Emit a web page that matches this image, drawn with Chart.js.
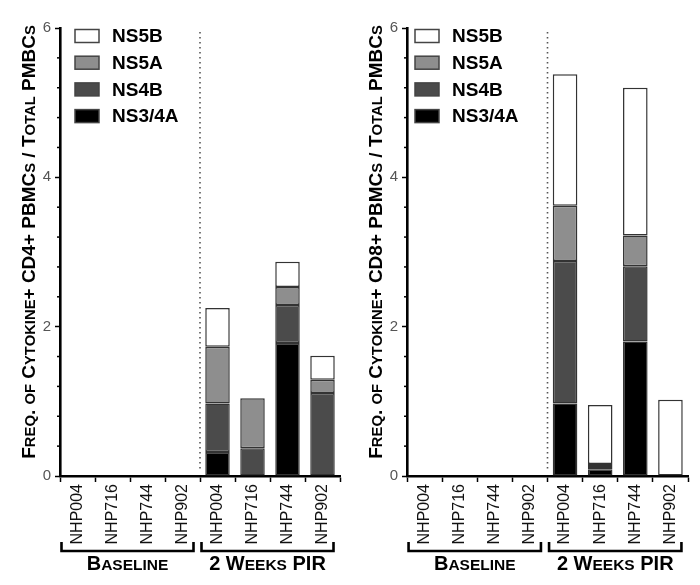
<!DOCTYPE html>
<html>
<head>
<meta charset="utf-8">
<script src="https://cdn.jsdelivr.net/npm/chart.js@4"></script>
<style>
  body { margin: 0; background: #fff; }
  .box { position: absolute; top: 0; width: 350px; height: 585px; }
</style>
</head>
<body>
<div class="box" style="left:0"><canvas id="cd4" width="350" height="585"></canvas></div>
<div class="box" style="left:350px"><canvas id="cd8" width="350" height="585"></canvas></div>
<script>
// categorias (4 animales, antes y 2 semanas post)
const categories = ["NHP004", "NHP716", "NHP744", "NHP902", "NHP004", "NHP716", "NHP744", "NHP902"];
const groupLabels = ["Baseline", "2 Weeks PIR"];
const seriesNames = ["NS3/4A", "NS4B", "NS5A", "NS5B"];
const seriesColors = ["#000000", "#4b4b4b", "#8e8e8e", "#ffffff"];
const yTicks = [0, 2, 4, 6];

// CD4+ (panel izquierdo)
const cd4NS34A = [null, null, null, null, 0.32, 0, 1.78, 0];
const cd4NS4B = [null, null, null, null, 0.65, 0.37, 0.51, 1.11];
const cd4NS5A = [null, null, null, null, 0.76, 0.67, 0.24, 0.18];
const cd4NS5B = [null, null, null, null, 0.52, 0, 0.34, 0.32];

// CD8+ (panel derecho)
const cd8NS34A = [null, null, null, null, 0.97, 0.09, 1.80, 0];
const cd8NS4B = [null, null, null, null, 1.91, 0.03, 1.01, 0];
const cd8NS5A = [null, null, null, null, 0.74, 0.04, 0.41, 0];
const cd8NS5B = [null, null, null, null, 1.76, 0.79, 1.98, 1.02];

const FONT = "'Liberation Sans', Arial, sans-serif";

// texto en versalitas: minusculas en mayuscula pequeña
function drawSmallCaps(ctx, text, x, y, big, small) {
  const runs = [];
  for (const ch of text) {
    const low = ch !== ch.toUpperCase();
    const size = low ? small : big;
    const last = runs[runs.length - 1];
    if (last && last.size === size) last.t += ch.toUpperCase();
    else runs.push({ t: ch.toUpperCase(), size });
  }
  let total = 0;
  runs.forEach((r) => {
    ctx.font = "bold " + r.size + "px " + FONT;
    r.w = ctx.measureText(r.t).width;
    total += r.w;
  });
  let cx = x - total / 2;
  ctx.textAlign = "left";
  ctx.textBaseline = "alphabetic";
  runs.forEach((r) => {
    ctx.font = "bold " + r.size + "px " + FONT;
    ctx.fillText(r.t, cx, y);
    cx += r.w;
  });
}

const decorPlugin = {
  id: "decor",
  afterDraw(chart, args, opts) {
    const ctx = chart.ctx;
    const xs = chart.scales.x, ys = chart.scales.y;
    const area = chart.chartArea;
    ctx.save();

    // ticks menores
    ctx.strokeStyle = "#000";
    ctx.lineWidth = 1.5;
    for (let i = 1; i < 15; i++) {
      if (i % 5 === 0) continue;
      const py = ys.getPixelForValue(i * 0.4);
      ctx.beginPath();
      ctx.moveTo(area.left - 3, py);
      ctx.lineTo(area.left, py);
      ctx.stroke();
    }

    // linea punteada entre grupos
    const xd = (xs.getPixelForValue(3) + xs.getPixelForValue(4)) / 2;
    ctx.strokeStyle = "#555";
    ctx.lineWidth = 1.6;
    ctx.setLineDash([1.6, 3.4]);
    ctx.beginPath();
    ctx.moveTo(xd, area.top + 4);
    ctx.lineTo(xd, area.bottom - 5);
    ctx.stroke();
    ctx.setLineDash([]);

    // corchetes y etiquetas de grupo
    ctx.strokeStyle = "#000";
    ctx.lineWidth = 2.6;
    ctx.fillStyle = "#000";
    [[0, 3], [4, 7]].forEach((g, gi) => {
      const x0 = xs.getPixelForValue(g[0]) - 16;
      const x1 = xs.getPixelForValue(g[1]) + 11;
      ctx.beginPath();
      ctx.moveTo(x0, 542);
      ctx.lineTo(x0, 551);
      ctx.lineTo(x1, 551);
      ctx.lineTo(x1, 542);
      ctx.stroke();
      drawSmallCaps(ctx, groupLabels[gi], (x0 + x1) / 2, 570, 20, 15.5);
    });

    // titulo eje Y
    ctx.save();
    ctx.translate(opts.titleX, 242);
    ctx.rotate(-Math.PI / 2);
    ctx.fillStyle = "#000";
    drawSmallCaps(ctx, opts.title, 0, 7, 19, 14.8);
    ctx.restore();

    // leyenda (orden inverso al apilado)
    const lx = area.left + opts.legendX;
    chart.data.datasets.slice().reverse().forEach((ds, i) => {
      const cy = area.top + 8 + i * 26.7;
      ctx.fillStyle = ds.backgroundColor;
      ctx.fillRect(lx, cy - 6.5, 24, 13);
      ctx.strokeStyle = "#444";
      ctx.lineWidth = 1.5;
      ctx.strokeRect(lx, cy - 6.5, 24, 13);
      ctx.fillStyle = "#000";
      ctx.font = "bold 19px " + FONT;
      ctx.textAlign = "left";
      ctx.textBaseline = "middle";
      ctx.fillText(ds.label, lx + 37, cy + 1);
    });
    ctx.restore();
  },
};

function renderPanel(canvasId, series, title, yWidth, padRight, legendX, titleX) {
  const ctx = document.getElementById(canvasId).getContext("2d");
  new Chart(ctx, {
    type: "bar",
    data: {
      labels: categories,
      datasets: series.map((data, i) => ({
        label: seriesNames[i],
        data,
        backgroundColor: seriesColors[i],
        borderColor: "#333",
        borderWidth: (c) => (c.raw ? 1.5 : 0),
        borderSkipped: false,
        barPercentage: 0.7,
        categoryPercentage: 1.0,
      })),
    },
    options: {
      responsive: false,
      animation: false,
      layout: { padding: { top: 28, right: padRight, left: 0, bottom: 0 } },
      plugins: {
        legend: { display: false },
        tooltip: { enabled: false },
        decor: { title, legendX, titleX },
      },
      scales: {
        x: {
          stacked: true,
          afterFit: (s) => { s.height = 109; },
          grid: { drawOnChartArea: false, drawTicks: true, tickLength: 6, tickWidth: 1.5, color: "#000" },
          border: { display: true, color: "#000", width: 2.6 },
          ticks: {
            minRotation: 90,
            maxRotation: 90,
            padding: 2,
            color: "#111",
            font: { family: FONT, size: 16 },
          },
        },
        y: {
          stacked: true,
          min: 0,
          max: 6,
          afterFit: (s) => { s.width = yWidth; },
          afterBuildTicks: (s) => { s.ticks = yTicks.map((v) => ({ value: v })); },
          grid: { drawOnChartArea: false, drawTicks: true, tickLength: 5, tickWidth: 1.5, color: "#000" },
          border: { display: true, color: "#000", width: 2.6 },
          ticks: {
            padding: 4,
            color: "#555",
            font: { family: FONT, size: 15 },
          },
        },
      },
    },
    plugins: [decorPlugin],
  });
}

renderPanel("cd4", [cd4NS34A, cd4NS4B, cd4NS5A, cd4NS5B],
  "Freq. of Cytokine+ CD4+ PBMCs / Total PMBCs", 60, 10, 15, 28);
renderPanel("cd8", [cd8NS34A, cd8NS4B, cd8NS5A, cd8NS5B],
  "Freq. of Cytokine+ CD8+ PBMCs / Total PMBCs", 57, 12, 8, 25);
</script>
</body>
</html>
